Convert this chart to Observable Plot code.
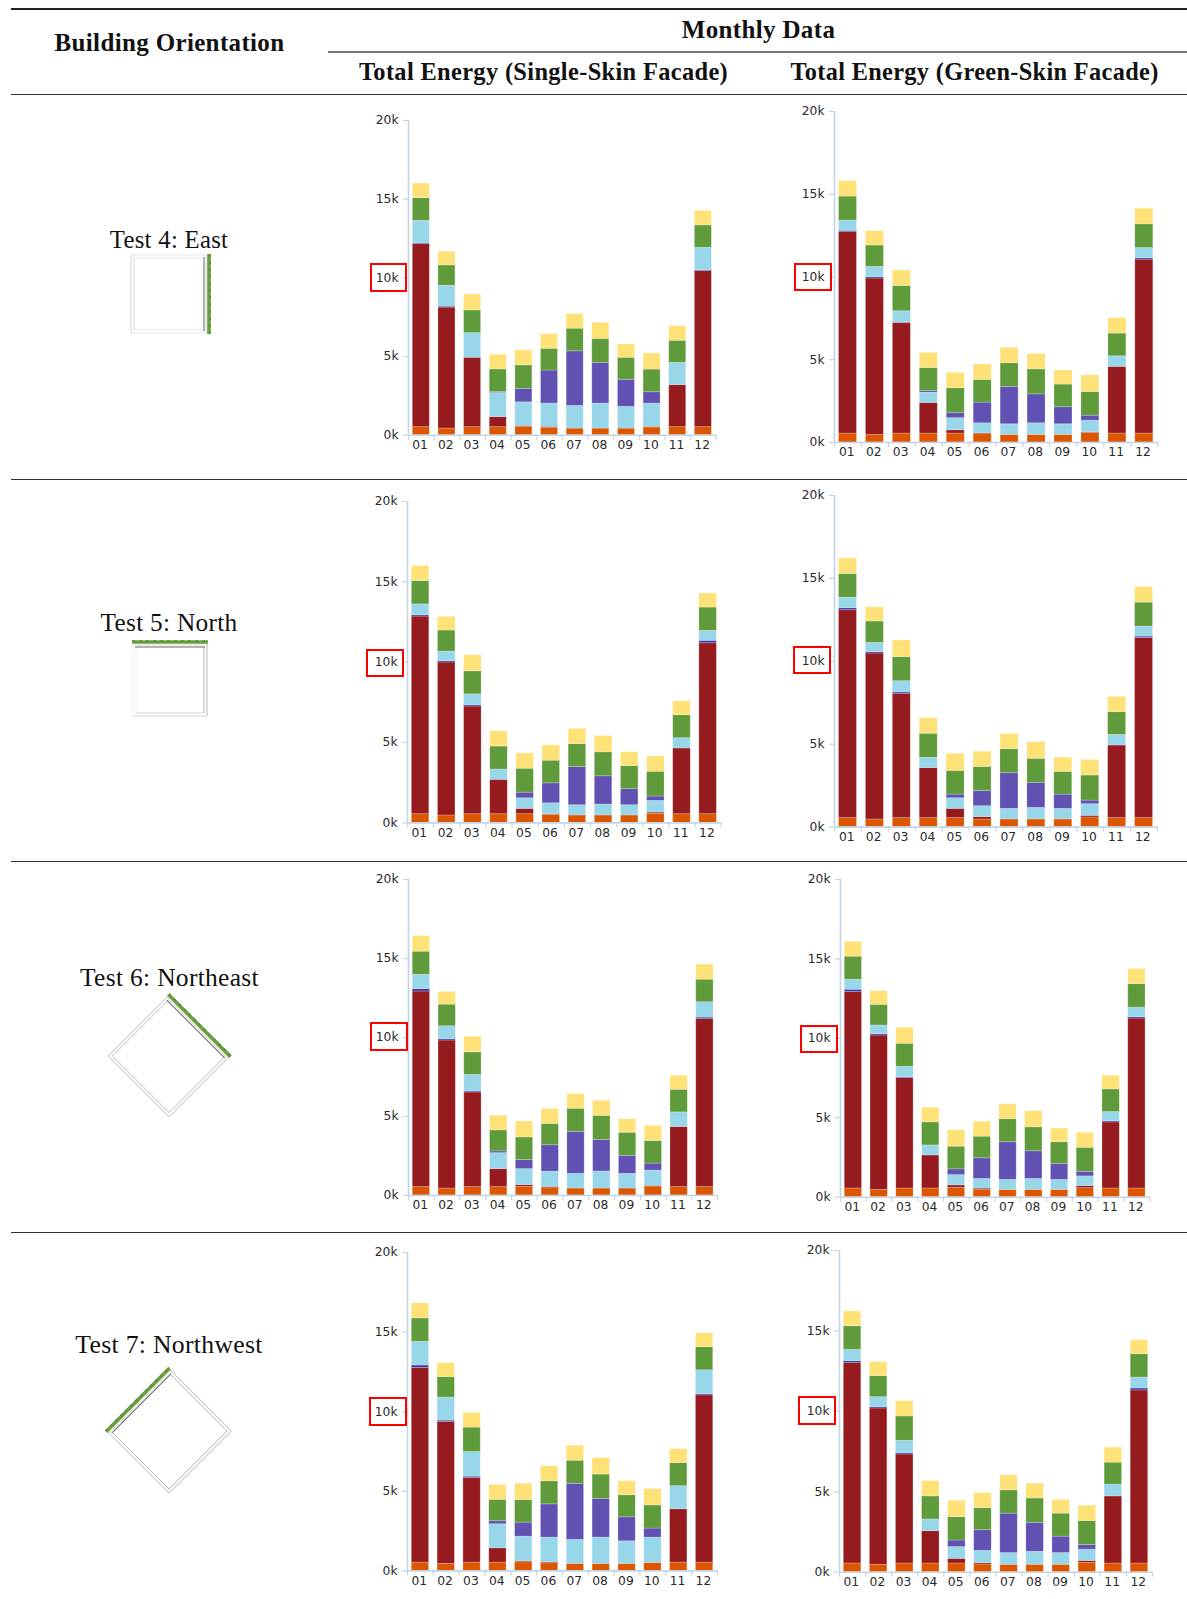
<!DOCTYPE html>
<html>
<head>
<meta charset="utf-8">
<script src="https://cdn.jsdelivr.net/npm/d3@7"></script>
<script src="https://cdn.jsdelivr.net/npm/@observablehq/plot@0.6"></script>
<style>
html,body{margin:0;padding:0;background:#fff}
#page{position:relative;width:1187px;height:1599px;overflow:hidden;background:#fff}
#page>*{position:absolute}
.t{white-space:nowrap;font-family:"Liberation Serif",serif;color:#111;transform:translateX(-50%);line-height:normal}
.rule{background:#333}
.box{border:2.2px solid #f00;box-sizing:border-box}
</style>
</head>
<body>
<div id="page"></div>
<script>
const months = ["01","02","03","04","05","06","07","08","09","10","11","12"];
const yTicks = [0,5,10,15,20];

const eastSingleOrange = [.51,.42,.51,.51,.53,.47,.42,.42,.42,.49,.51,.51];
const eastSingleRed = [11.63,7.69,4.41,.64,.06,.06,0,0,0,.04,2.67,9.92];
const eastSingleThin = [.06,.06,0,0,0,0,0,0,0,0,0,.06];
const eastSingleBlue = [1.42,1.33,1.57,1.53,1.5,1.48,1.44,1.59,1.38,1.48,1.42,1.42];
const eastSinglePurple = [0,0,0,.06,.85,2.1,3.47,2.58,1.72,.72,0,0];
const eastSingleGreen = [1.44,1.29,1.44,1.44,1.5,1.38,1.44,1.53,1.4,1.44,1.4,1.42];
const eastSingleYellow = [.93,.87,1.02,.93,.95,.93,.93,1.02,.85,1.02,.93,.93];

const eastGreenOrange = [.54,.46,.54,.54,.54,.5,.46,.46,.46,.58,.54,.54];
const eastGreenRed = [12.17,9.45,6.69,1.85,.2,.06,0,0,0,.04,4.03,10.51];
const eastGreenThin = [.08,.08,0,0,0,0,0,0,0,0,0,.08];
const eastGreenBlue = [.62,.62,.7,.62,.73,.6,.64,.7,.64,.7,.64,.62];
const eastGreenPurple = [0,0,0,.1,.3,1.25,2.26,1.75,1.03,.3,0,0];
const eastGreenGreen = [1.45,1.29,1.53,1.39,1.51,1.37,1.43,1.51,1.37,1.43,1.37,1.43];
const eastGreenYellow = [.93,.87,.93,.91,.93,.93,.93,.93,.85,1.01,.93,.95];

const northSingleOrange = [.54,.46,.54,.54,.54,.5,.46,.46,.46,.56,.54,.54];
const northSingleRed = [12.3,9.52,6.7,2.14,.33,.04,0,0,0,.08,4.09,10.64];
const northSingleThin = [.08,.08,.08,0,0,0,0,0,0,0,0,.15];
const northSingleBlue = [.68,.6,.68,.64,.66,.68,.64,.68,.64,.73,.64,.62];
const northSinglePurple = [0,0,0,0,.35,1.24,2.37,1.76,1,.27,0,0];
const northSingleGreen = [1.45,1.31,1.43,1.43,1.49,1.41,1.43,1.49,1.43,1.54,1.43,1.45];
const northSingleYellow = [.93,.85,1,.95,.95,.95,.95,1.02,.87,.95,.87,.87];

const northGreenOrange = [.54,.46,.54,.54,.54,.46,.46,.46,.46,.58,.54,.54];
const northGreenRed = [12.54,10.01,7.5,3.02,.56,.14,0,0,0,.1,4.38,10.87];
const northGreenThin = [.12,.08,.08,0,0,0,0,0,0,0,0,.08];
const northGreenBlue = [.64,.56,.68,.62,.64,.66,.64,.7,.64,.7,.64,.6];
const northGreenPurple = [0,0,0,0,.22,.92,2.15,1.51,.86,.22,0,0];
const northGreenGreen = [1.43,1.29,1.45,1.45,1.43,1.45,1.45,1.45,1.37,1.51,1.37,1.45];
const northGreenYellow = [.94,.86,1,.94,1.03,.92,.92,1,.86,.94,.92,.94];

const northeastSingleOrange = [.53,.44,.53,.53,.55,.46,.44,.44,.44,.57,.53,.53];
const northeastSingleRed = [12.38,9.37,5.99,1.14,.11,.08,0,0,0,.04,3.8,10.65];
const northeastSingleThin = [.15,.08,.06,0,0,0,0,0,0,0,0,.08];
const northeastSingleBlue = [.91,.82,1.05,1.01,1.01,.97,.93,1.08,.93,.97,.93,.97];
const northeastSinglePurple = [0,0,0,.11,.57,1.67,2.66,2,1.14,.44,0,0];
const northeastSingleGreen = [1.46,1.37,1.43,1.33,1.43,1.35,1.46,1.52,1.46,1.43,1.43,1.43];
const northeastSingleYellow = [.99,.8,.99,.93,1.01,.95,.93,.95,.86,.95,.89,.95];

const northeastGreenOrange = [.55,.46,.55,.55,.59,.46,.46,.46,.46,.57,.55,.55];
const northeastGreenRed = [12.36,9.72,6.95,2.08,.15,.08,0,0,0,.13,4.16,10.7];
const northeastGreenThin = [.15,.08,.06,0,0,0,0,0,0,0,.08,.08];
const northeastGreenBlue = [.63,.55,.65,.63,.65,.61,.63,.69,.63,.61,.57,.61];
const northeastGreenPurple = [0,0,0,0,.36,1.3,2.37,1.74,1.01,.29,0,0];
const northeastGreenGreen = [1.45,1.3,1.45,1.45,1.43,1.36,1.45,1.51,1.36,1.51,1.43,1.47];
const northeastGreenYellow = [.94,.86,1.01,.92,1.03,.94,.94,1.01,.86,.94,.86,.94];

const northwestSingleOrange = [.52,.44,.52,.52,.54,.48,.44,.44,.44,.5,.52,.52];
const northwestSingleRed = [12.23,8.92,5.32,.9,.06,.06,0,0,0,0,3.35,10.51];
const northwestSingleThin = [.15,.08,.08,0,0,0,0,0,0,0,0,.08];
const northwestSingleBlue = [1.49,1.45,1.55,1.51,1.55,1.55,1.51,1.65,1.42,1.59,1.45,1.49];
const northwestSinglePurple = [0,0,0,.19,.88,2.09,3.52,2.43,1.51,.57,0,0];
const northwestSingleGreen = [1.47,1.28,1.53,1.34,1.42,1.45,1.45,1.53,1.38,1.45,1.45,1.45];
const northwestSingleYellow = [.94,.88,.92,.94,1.03,.94,.94,1.03,.88,1.03,.88,.88];

const northwestGreenOrange = [.54,.46,.54,.54,.54,.48,.46,.46,.46,.58,.54,.54];
const northwestGreenRed = [12.46,9.72,6.78,2.01,.29,.08,0,0,0,.12,4.17,10.76];
const northwestGreenThin = [.12,.08,.08,0,0,0,0,0,0,0,0,.12];
const northwestGreenBlue = [.7,.62,.77,.73,.73,.77,.73,.81,.73,.7,.73,.68];
const northwestGreenPurple = [0,0,0,0,.41,1.28,2.45,1.8,1.02,.29,0,0];
const northwestGreenGreen = [1.47,1.31,1.51,1.43,1.45,1.37,1.45,1.51,1.43,1.49,1.37,1.45];
const northwestGreenYellow = [.93,.87,.95,.95,1.02,.93,.93,.93,.85,.95,.93,.87];

const seriesNames = ["orange","red","thin","blue","purple","green","yellow"];
const seriesColors = ["#dc5600","#951b1e","#3d35a8","#98d6ea","#6151b3","#5f9a3b","#fee177"];

// axis x, right end, y of 0k, y of 20k, bar width, red box [x0,x1,y0,y1]
const charts = [
  {s:[eastSingleOrange,eastSingleRed,eastSingleThin,eastSingleBlue,eastSinglePurple,eastSingleGreen,eastSingleYellow], ax:408, r:715.7, y0:435, y20:120.3, w:17, box:[370,407.3,263.3,291.7]},
  {s:[eastGreenOrange,eastGreenRed,eastGreenThin,eastGreenBlue,eastGreenPurple,eastGreenGreen,eastGreenYellow], ax:834, r:1157.3, y0:441.7, y20:110.7, w:18, box:[794,832,263.3,291.3]},
  {s:[northSingleOrange,northSingleRed,northSingleThin,northSingleBlue,northSinglePurple,northSingleGreen,northSingleYellow], ax:407.3, r:721, y0:822.7, y20:501.3, w:17.5, box:[366.3,404.3,648.7,677.3]},
  {s:[northGreenOrange,northGreenRed,northGreenThin,northGreenBlue,northGreenPurple,northGreenGreen,northGreenYellow], ax:834.3, r:1157.3, y0:826.3, y20:494.7, w:18, box:[793.3,831.3,645.7,674]},
  {s:[northeastSingleOrange,northeastSingleRed,northeastSingleThin,northeastSingleBlue,northeastSinglePurple,northeastSingleGreen,northeastSingleYellow], ax:408, r:717.3, y0:1195, y20:879, w:17.3, box:[369.7,407.7,1022.3,1051]},
  {s:[northeastGreenOrange,northeastGreenRed,northeastGreenThin,northeastGreenBlue,northeastGreenPurple,northeastGreenGreen,northeastGreenYellow], ax:840, r:1149.3, y0:1197, y20:879.3, w:17.3, box:[800,838,1025,1053.3]},
  {s:[northwestSingleOrange,northwestSingleRed,northwestSingleThin,northwestSingleBlue,northwestSinglePurple,northwestSingleGreen,northwestSingleYellow], ax:407.3, r:717.3, y0:1570.7, y20:1252.3, w:17.3, box:[369.3,407,1397,1425.7]},
  {s:[northwestGreenOrange,northwestGreenRed,northwestGreenThin,northwestGreenBlue,northwestGreenPurple,northwestGreenGreen,northwestGreenYellow], ax:839.3, r:1152.3, y0:1572, y20:1250.3, w:17.5, box:[798.3,836.3,1396.3,1425]}
];

const page = document.getElementById("page");
const axisColor = "#c4d4e4";
const mL = 46, mR = 6, mT = 8, mB = 26;

for (const c of charts) {
  const rows = [];
  c.s.forEach((vals, si) => vals.forEach((v, m) => {
    if (v > 0) rows.push({m, series: seriesNames[si], color: seriesColors[si], v});
  }));
  const plotW = c.r - c.ax, plotH = c.y0 - c.y20;
  const inset = (plotW / 12 - c.w) / 2;
  const svg = Plot.plot({
    width: plotW + mL + mR, height: plotH + mT + mB,
    marginLeft: mL, marginRight: mR, marginTop: mT, marginBottom: mB,
    x: {domain: [0, 12], axis: null},
    y: {domain: [0, 20], axis: null},
    style: {fontFamily: "'DejaVu Sans',sans-serif", fontSize: "12.3px", background: "none", overflow: "visible"},
    marks: [
      Plot.rectY(rows, Plot.stackY({
        x1: d => d.m, x2: d => d.m + 1, y: "v", z: "series",
        fill: "color", order: null,
        stroke: "#fff", strokeOpacity: 0.28, strokeWidth: 0.8,
        insetLeft: inset, insetRight: inset
      })),
      Plot.ruleX([0], {stroke: axisColor, strokeWidth: 1.6}),
      Plot.ruleY([0], {stroke: axisColor, strokeWidth: 1.6}),
      Plot.ruleX(d3.range(13), {x: d => d, y1: 0, y2: 0, insetBottom: -5, stroke: axisColor, strokeWidth: 1.2}),
      Plot.axisY({ticks: yTicks, tickFormat: d => d + "k", tickSize: 5, tickPadding: 5, stroke: axisColor, strokeWidth: 1.2, fill: "#2a2a2a", label: null}),
      Plot.axisX({ticks: months.map((_, i) => i + 0.5), tickFormat: d => months[d - 0.5], tickSize: 0, tickPadding: 5, dx: -1.2, fill: "#2a2a2a", label: null})
    ]
  });
  svg.style.left = (c.ax - mL) + "px";
  svg.style.top = (c.y20 - mT) + "px";
  page.appendChild(svg);
  const b = document.createElement("div");
  b.className = "box";
  b.style.cssText = `left:${c.box[0]}px;top:${c.box[2]}px;width:${c.box[1]-c.box[0]}px;height:${c.box[3]-c.box[2]}px`;
  page.appendChild(b);
}

// table rules: x0, x1, y, thickness, colour
const tableRules = [
  [11,1187,8,2.4,"#222"],[328,1187,51.3,1.4,"#777"],[11,1187,94.2,1,"#333"],
  [11,1187,479,1,"#333"],[11,1187,860.5,1,"#333"],[11,1187,1232,1,"#333"]
];
for (const [a,b,y,h,col] of tableRules) {
  const d = document.createElement("div");
  d.className = "rule";
  d.style.cssText = `left:${a}px;width:${b-a}px;top:${y}px;height:${h}px;background:${col}`;
  page.appendChild(d);
}

// text, centre x, baseline y, size, weight, letter spacing
const labels = [
  ["Building Orientation",169.5,51,25,"bold",0.35],
  ["Monthly Data",758.5,38,25,"bold",0.35],
  ["Total Energy (Single-Skin Facade)",543.5,80,24.4,"bold",0.35],
  ["Total Energy (Green-Skin Facade)",974.5,80,24.3,"bold",0.35],
  ["Test 4: East",169,248,24.7,"normal",0.3],
  ["Test 5: North",169,631,25.3,"normal",0.3],
  ["Test 6: Northeast",169.5,986,25.5,"normal",0.3],
  ["Test 7: Northwest",169,1353,25.7,"normal",0.3]
];
for (const [s,x,y,f,w,ls] of labels) {
  const d = document.createElement("div");
  d.className = "t";
  d.textContent = s;
  d.style.cssText = `left:${x}px;top:${y-0.891*f}px;font-size:${f}px;font-weight:${w};letter-spacing:${ls}px`;
  page.appendChild(d);
}

// building plan sketches: centre x, centre y, side, rotation, wall colours (local left, bottom, right), wall width
const plans = [
  [169.7,293.5,78,90,"#e6e6e6","#dcdcdc","#e6e6e6",1.2],
  [169.8,679,74,0,"#f3f3f3","#e2e2e2","#c6c6c6",1.3],
  [169.3,1056.4,86,45,"#b4b4b4","#b4b4b4","#b4b4b4",0.9],
  [169,1430.5,88,-45,"#b4b4b4","#b4b4b4","#b4b4b4",0.9]
];
for (const [cx,cy,s,rot,cl,cb,cr,ww] of plans) {
  const h = s/2, M = 70;
  const ns = "http://www.w3.org/2000/svg";
  const svg = document.createElementNS(ns,"svg");
  svg.setAttribute("width",M*2); svg.setAttribute("height",M*2);
  svg.setAttribute("viewBox",`${-M} ${-M} ${M*2} ${M*2}`);
  svg.style.left = (cx-M)+"px"; svg.style.top = (cy-M)+"px";
  svg.innerHTML = `<g transform="rotate(${rot})" fill="none" stroke-width="${ww}">
    <path d="M${-h} ${-h}V${h}M${-h+3} ${-h+5}V${h-3}" stroke="${cl}"/>
    <path d="M${-h} ${h}H${h}M${-h+3} ${h-3}H${h-3}" stroke="${cb}"/>
    <path d="M${h} ${-h}V${h}M${h-3} ${-h+5}V${h-3}" stroke="${cr}"/>
    <path d="M${-h+2} ${-h+5}H${h-2}" stroke="#666" stroke-width="1"/>
    <path d="M${-h+1} ${-h+3}H${h-1}" stroke="#ddd" stroke-width="1"/>
    <path d="M${-h-1} ${-h}H${h+1}" stroke="#6b9f3e" stroke-width="3.6"/>
    <path d="M${-h-1} ${-h-1}H${h+1}" stroke="#4f8a22" stroke-width="1.2" stroke-dasharray="3 4"/>
  </g>`;
  page.appendChild(svg);
}
</script>
</body>
</html>
